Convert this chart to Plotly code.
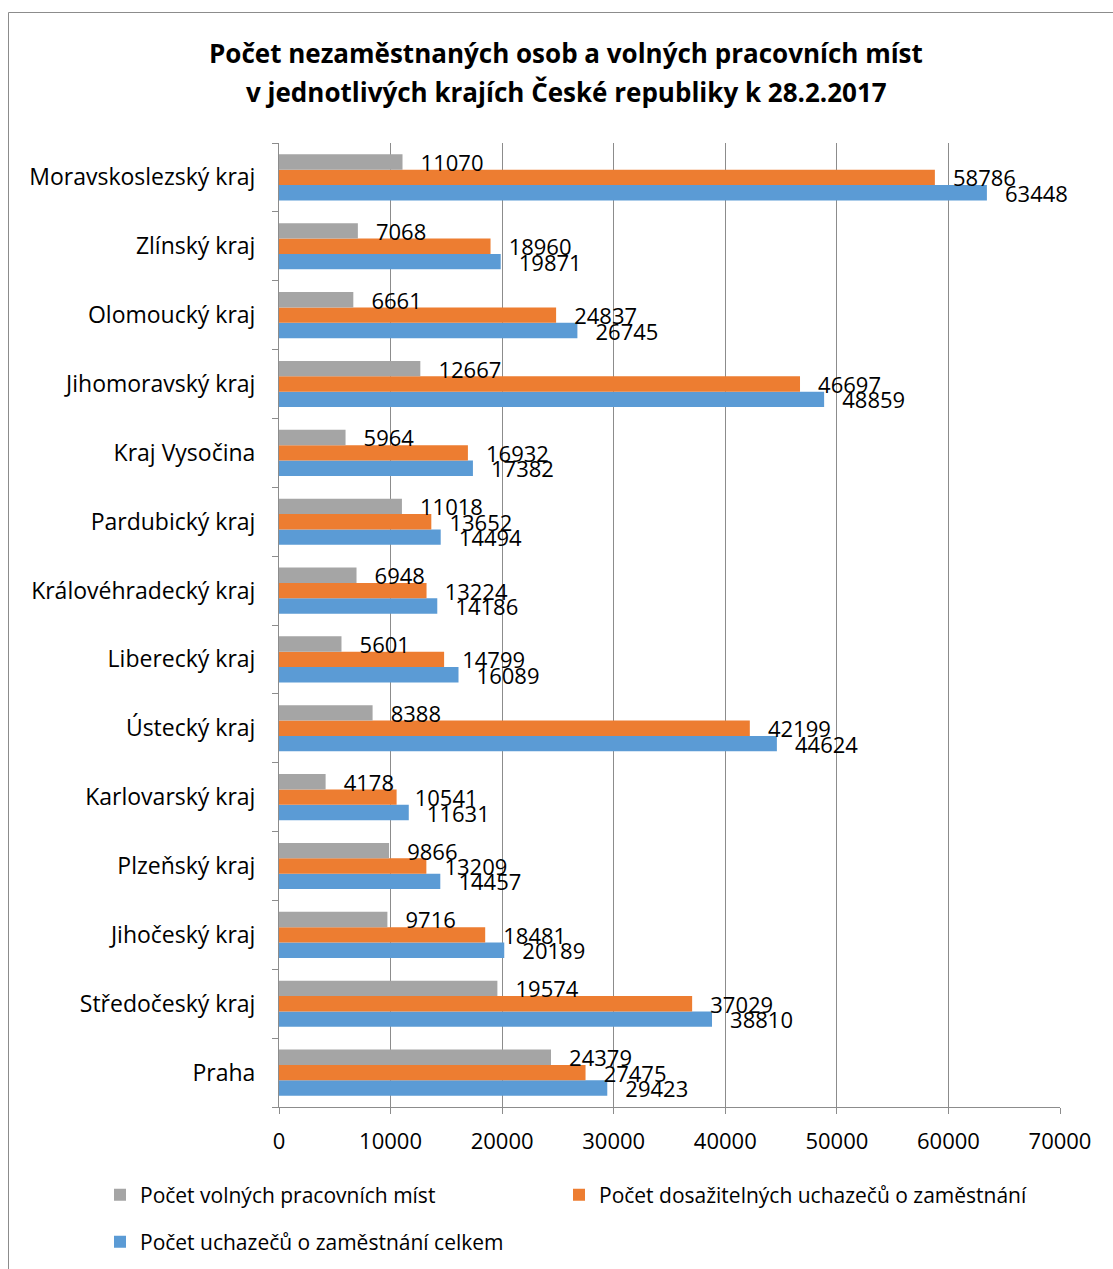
import plotly.graph_objects as go

# Regions listed bottom-to-top as they appear on the category axis
regions = [
    "Praha", "Středočeský kraj", "Jihočeský kraj", "Plzeňský kraj",
    "Karlovarský kraj", "Ústecký kraj", "Liberecký kraj",
    "Královéhradecký kraj", "Pardubický kraj", "Kraj Vysočina",
    "Jihomoravský kraj", "Olomoucký kraj", "Zlínský kraj",
    "Moravskoslezský kraj",
]
volna_mista = [24379, 19574, 9716, 9866, 4178, 8388, 5601,
               6948, 11018, 5964, 12667, 6661, 7068, 11070]
dosazitelni = [27475, 37029, 18481, 13209, 10541, 42199, 14799,
               13224, 13652, 16932, 46697, 24837, 18960, 58786]
celkem = [29423, 38810, 20189, 14457, 11631, 44624, 16089,
          14186, 14494, 17382, 48859, 26745, 19871, 63448]

x_ticks = [0, 10000, 20000, 30000, 40000, 50000, 60000, 70000]

FONT = "Open Sans"
GRID = "#8c8c8c"
W, H = 1113, 1269
L, R, T, B = 279, 53, 143, 162
PW, PH = W - L - R, H - T - B

series = [
    ("Počet uchazečů o zaměstnání celkem", celkem, "#5B9BD5", "legend3"),
    ("Počet dosažitelných uchazečů o zaměstnání", dosazitelni, "#ED7D31", "legend2"),
    ("Počet volných pracovních míst", volna_mista, "#A5A5A5", "legend"),
]

fig = go.Figure()
for name, vals, color, leg in series:
    fig.add_trace(go.Bar(
        y=regions, x=vals, name=name, orientation="h",
        marker=dict(color=color, line=dict(width=0)),
        texttemplate="\u00a0\u00a0\u2009%{x:d}",
        textposition="outside", constraintext="none", cliponaxis=False,
        textfont=dict(family=FONT, size=22, color="#000000"),
        legend=leg,
    ))

def px_x(p):
    return (p - L) / PW

def px_y(p):
    return (H - B - p) / PH

def legend_at(px, py):
    return dict(
        orientation="h", x=px_x(px), y=px_y(py),
        xanchor="left", yanchor="middle",
        font=dict(family=FONT, size=21, color="#000000"),
        bgcolor="rgba(0,0,0,0)",
    )

fig.update_layout(
    width=W, height=H,
    margin=dict(l=L, r=R, t=T, b=B, autoexpand=False),
    paper_bgcolor="white", plot_bgcolor="white",
    barmode="group", bargap=0.33, bargroupgap=0,
    font=dict(family=FONT, size=22, color="#000000"),
    showlegend=True,
    legend=legend_at(100, 1195),
    legend2=legend_at(559, 1195),
    legend3=legend_at(100, 1242),
    xaxis=dict(
        range=[0, 70000], tickvals=x_ticks, ticktext=[str(v) for v in x_ticks],
        showgrid=True, gridcolor=GRID, gridwidth=1,
        showline=True, linecolor=GRID, linewidth=1,
        ticks="outside", ticklen=6, tickcolor=GRID,
        zeroline=False, tickfont=dict(family=FONT, size=22),
        ticklabelstandoff=9,
    ),
    yaxis=dict(
        showgrid=False, showline=True, linecolor=GRID, linewidth=1,
        ticks="outside", ticklen=6, tickcolor=GRID, tickson="boundaries",
        tickfont=dict(family=FONT, size=23), ticklabelstandoff=18,
    ),
    annotations=[
        dict(text="<b>Počet nezaměstnaných osob a volných pracovních míst</b>",
             xref="paper", yref="paper", x=px_x(566), y=px_y(53),
             xanchor="center", yanchor="middle", showarrow=False,
             font=dict(family=FONT, size=26, color="#000000")),
        dict(text="<b>v jednotlivých krajích České republiky k 28.2.2017</b>",
             xref="paper", yref="paper", x=px_x(566), y=px_y(92),
             xanchor="center", yanchor="middle", showarrow=False,
             font=dict(family=FONT, size=26, color="#000000")),
    ],
    shapes=[
        dict(type="rect", xref="paper", yref="paper",
             x0=px_x(8.5), x1=px_x(1140), y0=px_y(1300), y1=px_y(12.5),
             line=dict(color="#8c8c8c", width=1), fillcolor="rgba(0,0,0,0)",
             layer="below"),
    ],
)

fig.write_html("out.html")
